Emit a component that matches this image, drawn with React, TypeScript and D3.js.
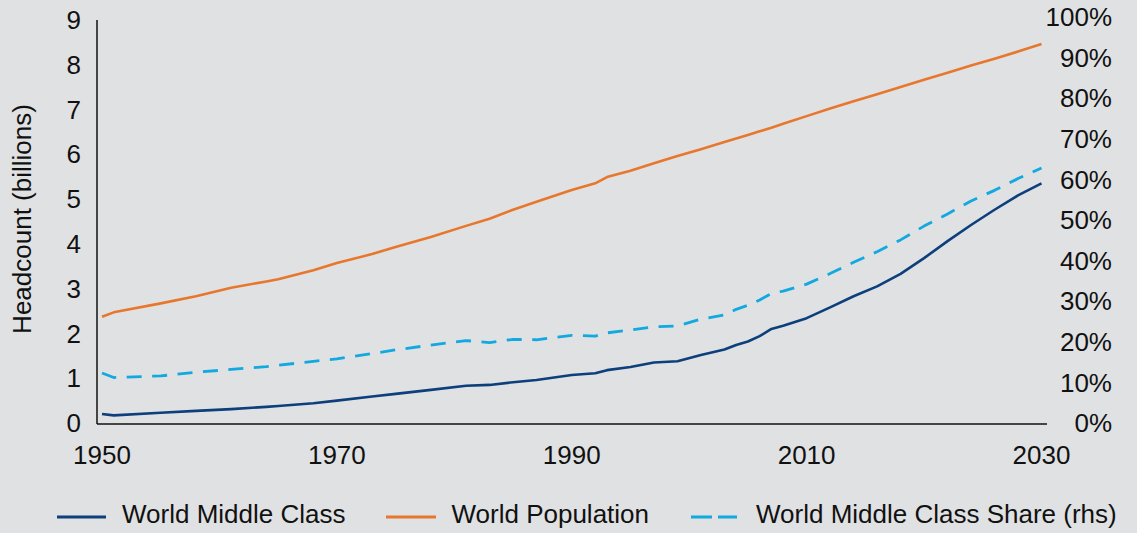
import React from "react";
import * as d3 from "d3";

const years = [1950, 1951, 1955, 1958, 1961, 1964, 1965, 1968, 1970, 1973, 1975, 1978, 1981, 1983, 1985, 1987, 1990, 1992, 1993, 1995, 1997, 1999, 2001, 2003, 2004, 2005, 2006, 2007, 2008, 2010, 2012, 2014, 2016, 2018, 2020, 2022, 2024, 2026, 2028, 2030];

const worldPopulation = [2.37, 2.47, 2.67, 2.83, 3.02, 3.16, 3.21, 3.41, 3.57, 3.77, 3.93, 4.15, 4.40, 4.56, 4.76, 4.94, 5.20, 5.35, 5.49, 5.63, 5.80, 5.96, 6.11, 6.27, 6.35, 6.43, 6.51, 6.59, 6.68, 6.85, 7.02, 7.18, 7.34, 7.50, 7.66, 7.82, 7.98, 8.13, 8.29, 8.46];

const worldMiddleClass = [0.20, 0.17, 0.23, 0.27, 0.31, 0.36, 0.38, 0.44, 0.50, 0.59, 0.65, 0.74, 0.83, 0.85, 0.91, 0.96, 1.07, 1.11, 1.18, 1.25, 1.35, 1.38, 1.52, 1.64, 1.74, 1.82, 1.94, 2.10, 2.17, 2.34, 2.58, 2.83, 3.05, 3.33, 3.68, 4.06, 4.42, 4.76, 5.08, 5.35];

const middleClassShare = [12.3, 11.2, 11.6, 12.5, 13.2, 13.9, 14.2, 15.2, 15.8, 17.1, 18.0, 19.2, 20.3, 19.8, 20.6, 20.5, 21.6, 21.4, 22.2, 22.9, 23.7, 23.9, 25.6, 26.6, 28.0, 29.0, 30.3, 31.9, 32.5, 34.2, 36.8, 39.6, 42.2, 45.1, 48.5, 51.5, 54.7, 57.3, 60.2, 62.8];

const xTicks = [1950, 1970, 1990, 2010, 2030];
const leftTicks = [0, 1, 2, 3, 4, 5, 6, 7, 8, 9];
const rightTicks = [0, 10, 20, 30, 40, 50, 60, 70, 80, 90, 100];

const legendItems = [
  { label: "World Middle Class", color: "#0c3f7c", dashed: false },
  { label: "World Population", color: "#e8772e", dashed: false },
  { label: "World Middle Class Share (rhs)", color: "#12a8e0", dashed: true },
];

const W = 1137;
const H = 533;
const FONT = "'Liberation Sans', Arial, sans-serif";

export default function App() {
  const x = d3.scaleLinear().domain([1950, 2030]).range([102, 1041.5]);
  const yL = d3.scaleLinear().domain([0, 9]).range([423, 19.8]);
  const yR = d3.scaleLinear().domain([0, 100]).range([423, 17]);

  const idx = years.map((_, i) => i);
  const lineL = (vals: number[]) =>
    d3.line<number>().x((i) => x(years[i])).y((i) => yL(vals[i]))(idx) || "";
  const lineR = (vals: number[]) =>
    d3.line<number>().x((i) => x(years[i])).y((i) => yR(vals[i]))(idx) || "";

  const legendLayout = [
    { x1: 57, x2: 106, tx: 122 },
    { x1: 386, x2: 436, tx: 451.5 },
    { x1: 691, x2: 737, tx: 756 },
  ];

  return (
    <svg
      width={W}
      height={H}
      style={{ position: "absolute", left: 0, top: 0, display: "block" }}
      fontFamily={FONT}
    >
      <rect x={0} y={0} width={W} height={H} fill="#e0e1e3" />

      {/* axes */}
      <line x1={97} x2={97} y1={20} y2={424} stroke="#111" strokeWidth={1.5} />
      <line x1={97} x2={1047} y1={424} y2={424} stroke="#111" strokeWidth={1.5} />

      {/* left ticks */}
      {leftTicks.map((t) => (
        <text key={"l" + t} x={81} y={yL(t)} dy="0.35em" textAnchor="end" fontSize={26} fill="#111">
          {t}
        </text>
      ))}
      {/* right ticks */}
      {rightTicks.map((t) => (
        <text key={"r" + t} x={1112} y={yR(t)} dy="0.35em" textAnchor="end" fontSize={26} fill="#111">
          {t + "%"}
        </text>
      ))}
      {/* x ticks */}
      {xTicks.map((t) => (
        <text key={"x" + t} x={x(t)} y={464.3} textAnchor="middle" fontSize={26} fill="#111">
          {t}
        </text>
      ))}

      {/* y title */}
      <text
        transform={`translate(31,219) rotate(-90)`}
        textAnchor="middle"
        fontSize={26}
        fill="#111"
      >
        Headcount (billions)
      </text>

      {/* series */}
      <path d={lineL(worldPopulation)} fill="none" stroke="#e8772e" strokeWidth={2.6} strokeLinejoin="round" />
      <path d={lineL(worldMiddleClass)} fill="none" stroke="#0c3f7c" strokeWidth={2.6} strokeLinejoin="round" />
      <path
        d={lineR(middleClassShare)}
        fill="none"
        stroke="#12a8e0"
        strokeWidth={2.8}
        strokeDasharray="15 10.5"
        strokeLinejoin="round"
      />

      {/* legend */}
      {legendItems.map((it, i) => {
        const L = legendLayout[i];
        return (
          <g key={it.label}>
            <line
              x1={L.x1}
              x2={L.x2}
              y1={517}
              y2={517}
              stroke={it.color}
              strokeWidth={2.8}
              strokeDasharray={it.dashed ? "21 6" : undefined}
            />
            <text x={L.tx} y={523.3} fontSize={26} fill="#111">
              {it.label}
            </text>
          </g>
        );
      })}
    </svg>
  );
}
